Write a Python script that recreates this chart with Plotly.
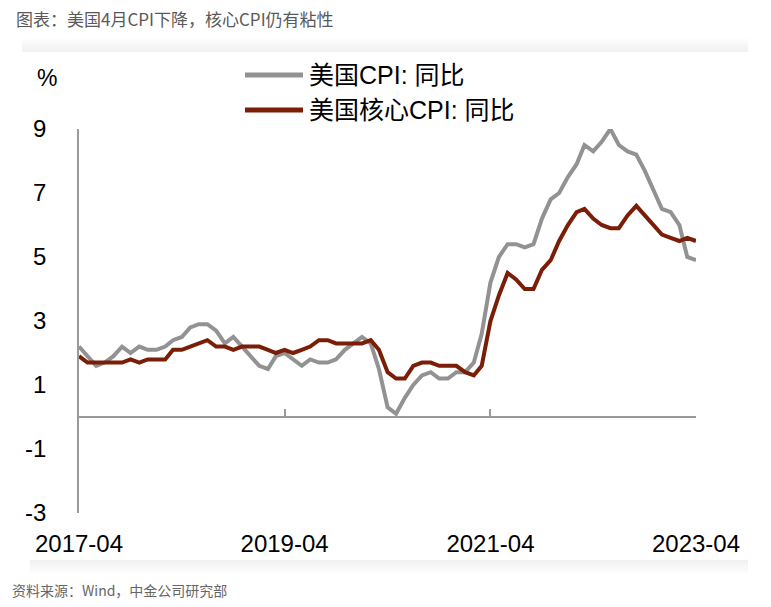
import plotly.graph_objects as go

months = ["2017-04","2017-05","2017-06","2017-07","2017-08","2017-09","2017-10","2017-11","2017-12",
          "2018-01","2018-02","2018-03","2018-04","2018-05","2018-06","2018-07","2018-08","2018-09","2018-10","2018-11","2018-12",
          "2019-01","2019-02","2019-03","2019-04","2019-05","2019-06","2019-07","2019-08","2019-09","2019-10","2019-11","2019-12",
          "2020-01","2020-02","2020-03","2020-04","2020-05","2020-06","2020-07","2020-08","2020-09","2020-10","2020-11","2020-12",
          "2021-01","2021-02","2021-03","2021-04","2021-05","2021-06","2021-07","2021-08","2021-09","2021-10","2021-11","2021-12",
          "2022-01","2022-02","2022-03","2022-04","2022-05","2022-06","2022-07","2022-08","2022-09","2022-10","2022-11","2022-12",
          "2023-01","2023-02","2023-03","2023-04"]

cpi_yoy = [2.2,1.9,1.6,1.7,1.9,2.2,2.0,2.2,2.1,
           2.1,2.2,2.4,2.5,2.8,2.9,2.9,2.7,2.3,2.5,2.2,1.9,
           1.6,1.5,1.9,2.0,1.8,1.6,1.8,1.7,1.7,1.8,2.1,2.3,
           2.5,2.3,1.5,0.3,0.1,0.6,1.0,1.3,1.4,1.2,1.2,1.4,
           1.4,1.7,2.6,4.2,5.0,5.4,5.4,5.3,5.4,6.2,6.8,7.0,
           7.5,7.9,8.5,8.3,8.6,9.0,8.5,8.3,8.2,7.7,7.1,6.5,
           6.4,6.0,5.0,4.9]

core_yoy = [1.9,1.7,1.7,1.7,1.7,1.7,1.8,1.7,1.8,
            1.8,1.8,2.1,2.1,2.2,2.3,2.4,2.2,2.2,2.1,2.2,2.2,
            2.2,2.1,2.0,2.1,2.0,2.1,2.2,2.4,2.4,2.3,2.3,2.3,
            2.3,2.4,2.1,1.4,1.2,1.2,1.6,1.7,1.7,1.6,1.6,1.6,
            1.4,1.3,1.6,3.0,3.8,4.5,4.3,4.0,4.0,4.6,4.9,5.5,
            6.0,6.4,6.5,6.2,6.0,5.9,5.9,6.3,6.6,6.3,6.0,5.7,
            5.6,5.5,5.6,5.5]

x_tick_vals = ["2017-04","2019-04","2021-04","2023-04"]
x_tick_text = ["2017-04","2019-04","2021-04","2023-04"]
y_tick_vals = [-3,-1,1,3,5,7,9]
y_tick_text = ["-3","-1","1","3","5","7","9"]

series_names = ["美国CPI: 同比", "美国核心CPI: 同比"]
gray = "#929292"
red = "#7B1E07"
axis_col = "#9A9A9A"

W, H = 771, 607
L, R, T, B = 79, 696, 129, 513

def px(xp):
    return (xp - L) / (R - L)

def py(yp):
    return (B - yp) / (B - T)

fig = go.Figure()
fig.add_trace(go.Scatter(x=months, y=cpi_yoy, mode="lines", name=series_names[0],
                         line=dict(color=gray, width=4), showlegend=False))
fig.add_trace(go.Scatter(x=months, y=core_yoy, mode="lines", name=series_names[1],
                         line=dict(color=red, width=4), showlegend=False))
# invisible trace to render the zero-crossing axis
fig.add_trace(go.Scatter(x=months, y=cpi_yoy, mode="lines", xaxis="x2", yaxis="y",
                         line=dict(width=0), opacity=0, showlegend=False, hoverinfo="skip"))

xr = ["2017-04-01", "2023-04-01"]
tickfont = dict(family="Liberation Sans, Arial, sans-serif", size=24, color="#000000")

shapes = []
# faint card shadow top and bottom
for k in range(1, 8):
    shapes.append(dict(type="rect", xref="paper", yref="paper",
                       x0=px(22), x1=px(748), y0=py(52), y1=py(52 - 2 * k),
                       line=dict(width=0), fillcolor="rgba(0,0,0,0.007)", layer="below"))
    shapes.append(dict(type="rect", xref="paper", yref="paper",
                       x0=px(30), x1=px(748), y0=py(560), y1=py(560 + 2 * k),
                       line=dict(width=0), fillcolor="rgba(0,0,0,0.007)", layer="below"))

annotations = []
legend_rows = [(75, gray), (110, red)]
for (yy, col), name in zip(legend_rows, series_names):
    shapes.append(dict(type="line", xref="paper", yref="paper",
                       x0=px(245), x1=px(303), y0=py(yy), y1=py(yy),
                       line=dict(color=col, width=5)))
    annotations.append(dict(text=name, xref="paper", yref="paper", x=px(307), y=py(yy),
                            xanchor="left", yanchor="middle", showarrow=False,
                            font=dict(family="Liberation Sans, Noto Sans CJK SC, sans-serif", size=25, color="#000")))

annotations.append(dict(text="%", xref="paper", yref="paper", x=px(47), y=py(78),
                        xanchor="center", yanchor="middle", showarrow=False,
                        font=dict(family="Liberation Sans, Arial, sans-serif", size=23, color="#000")))
annotations.append(dict(text="资料来源：Wind，中金公司研究部", xref="paper", yref="paper",
                        x=px(10), y=py(590), xanchor="left", yanchor="middle", showarrow=False,
                        font=dict(family="Noto Sans CJK SC, sans-serif", size=14, color="#666666")))

fig.update_layout(
    width=W, height=H,
    margin=dict(l=L, r=W - R, t=T, b=H - B, autoexpand=False),
    paper_bgcolor="white", plot_bgcolor="white",
    title=dict(text="图表：美国4月CPI下降，核心CPI仍有粘性", xref="container", yref="container",
               x=16 / W, y=1 - 20 / H, xanchor="left", yanchor="middle",
               font=dict(family="Noto Sans CJK SC, sans-serif", size=17, color="#595959")),
    xaxis=dict(type="date", range=xr, tickvals=x_tick_vals, ticktext=x_tick_text,
               showline=False, showgrid=False, zeroline=False, ticks="",
               tickfont=tickfont, ticklabelstandoff=14, automargin=False),
    xaxis2=dict(type="date", range=xr, overlaying="x", anchor="free", position=0.25, side="bottom",
                tickvals=x_tick_vals, showticklabels=False, showline=True, linecolor=axis_col,
                linewidth=1.5, ticks="inside", ticklen=7, tickwidth=1.5, tickcolor=axis_col,
                showgrid=False, zeroline=False, automargin=False),
    yaxis=dict(range=[-3, 9], tickvals=y_tick_vals, ticktext=y_tick_text, showline=True,
               linecolor=axis_col, linewidth=1.5,
               showgrid=False, zeroline=False, ticks="", tickfont=tickfont,
               ticklabelstandoff=26, automargin=False),
    shapes=shapes, annotations=annotations,
    hovermode=False,
)

fig.write_html("out.html", config={"displayModeBar": False},
               post_script="document.body.style.margin='0';document.body.style.overflow='hidden';")
